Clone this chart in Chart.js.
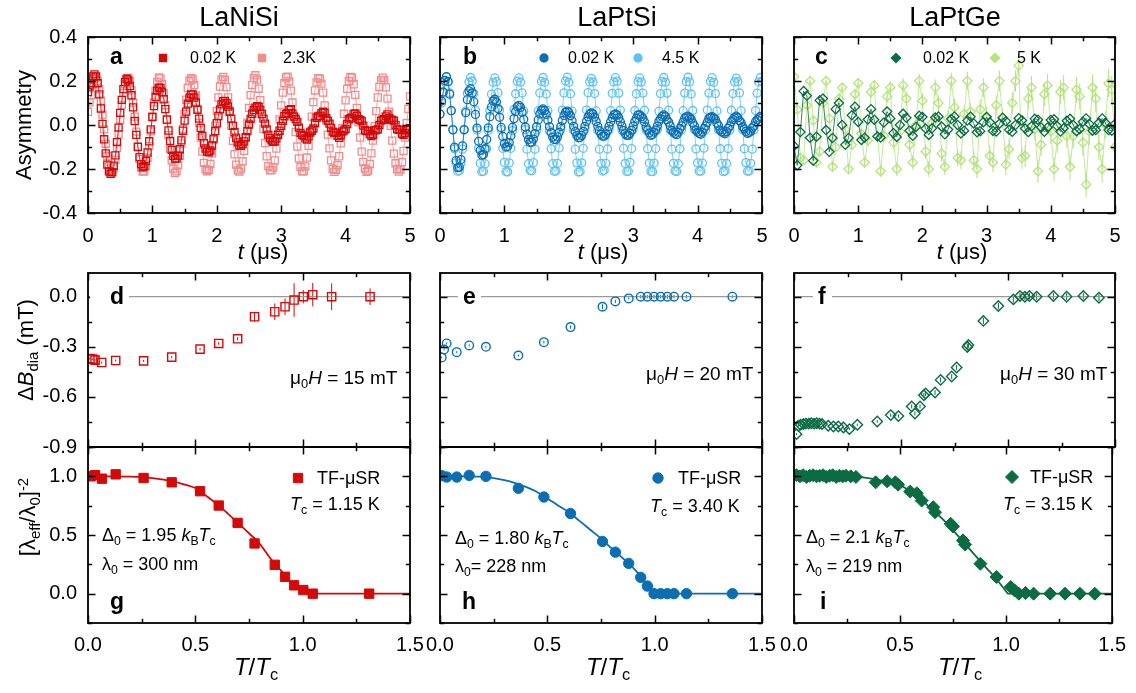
<!DOCTYPE html>
<html><head><meta charset="utf-8">
<script src="https://cdn.jsdelivr.net/npm/chart.js@4.4.1/dist/chart.umd.min.js"></script>
<style>
html,body{margin:0;padding:0;background:#fff;}
#wrap{position:relative;width:1136px;height:693px;overflow:hidden;font-family:"Liberation Sans",Arial,sans-serif;color:#000;background:#fff;}
canvas{position:absolute;left:0;top:0;}
.t{position:absolute;white-space:nowrap;line-height:1;z-index:5;}
.c{transform:translateX(-50%);}
.sub{font-size:0.68em;position:relative;top:0.32em;}
.sup{font-size:0.68em;position:relative;top:-0.5em;}
.lt{font-weight:bold;background:#fff;font-size:23px;}
.rot{transform:translate(-50%,-50%) rotate(-90deg);}
</style></head>
<body><div id="wrap">
<canvas id="ca" width="1136" height="693"></canvas>
<canvas id="cb" width="1136" height="693"></canvas>
<canvas id="cc" width="1136" height="693"></canvas>
<canvas id="cd" width="1136" height="693"></canvas>
<canvas id="ce" width="1136" height="693"></canvas>
<canvas id="cf" width="1136" height="693"></canvas>
<canvas id="cg" width="1136" height="693"></canvas>
<canvas id="ch" width="1136" height="693"></canvas>
<canvas id="ci" width="1136" height="693"></canvas>

<div class="t c" style="font-size:27px;left:239px;top:4px">LaNiSi</div>
<div class="t c" style="font-size:27px;left:617px;top:4px">LaPtSi</div>
<div class="t c" style="font-size:27px;left:955px;top:4px">LaPtGe</div>

<div class="t rot" style="font-size:22px;left:24px;top:125px">Asymmetry</div>
<div class="t rot" style="font-size:22px;left:26px;top:350px">Δ<i>B</i><span class="sub">dia</span> (mT)</div>
<div class="t rot" style="font-size:22px;left:28px;top:517px">[λ<span class="sub">eff</span>/λ<span class="sub">0</span>]<span class="sup">-2</span></div>

<div class="t c" style="font-size:22px;left:263px;top:241px"><i>t</i> (μs)</div>
<div class="t c" style="font-size:22px;left:603px;top:241px"><i>t</i> (μs)</div>
<div class="t c" style="font-size:22px;left:962px;top:241px"><i>t</i> (μs)</div>
<div class="t c" style="font-size:24px;left:256px;top:655px"><i>T</i>/<i>T</i><span class="sub">c</span></div>
<div class="t c" style="font-size:24px;left:608px;top:655px"><i>T</i>/<i>T</i><span class="sub">c</span></div>
<div class="t c" style="font-size:24px;left:960px;top:655px"><i>T</i>/<i>T</i><span class="sub">c</span></div>

<div class="t lt" style="left:110px;top:44.5px">a</div>
<div class="t lt" style="left:463px;top:44.5px">b</div>
<div class="t lt" style="left:815px;top:44.5px">c</div>
<div class="t lt" style="left:90px;top:284.5px;padding:0 5px 0 20px">d</div>
<div class="t lt" style="left:458px;top:284.5px;padding:0 5px">e</div>
<div class="t lt" style="left:813px;top:284.5px;padding:0 6px 0 5px">f</div>
<div class="t lt" style="left:110px;top:589.5px">g</div>
<div class="t lt" style="left:462px;top:589.5px">h</div>
<div class="t lt" style="left:820px;top:589.5px">i</div>

<div class="t" style="font-size:16px;left:190px;top:50px">0.02 K</div>
<div class="t" style="font-size:16px;left:283px;top:50px">2.3K</div>
<div class="t" style="font-size:16px;left:568px;top:50px">0.02 K</div>
<div class="t" style="font-size:16px;left:662px;top:50px">4.5 K</div>
<div class="t" style="font-size:16px;left:923px;top:50px">0.02 K</div>
<div class="t" style="font-size:16px;left:1017px;top:50px">5 K</div>

<div class="t" style="font-size:19px;left:290px;top:368px">μ<span class="sub">0</span><i>H</i> = 15 mT</div>
<div class="t" style="font-size:19px;left:646px;top:364px">μ<span class="sub">0</span><i>H</i> = 20 mT</div>
<div class="t" style="font-size:19px;left:1000px;top:364px">μ<span class="sub">0</span><i>H</i> = 30 mT</div>

<div class="t" style="font-size:18px;left:317px;top:469px">TF-μSR</div>
<div class="t" style="font-size:18px;left:290px;top:495px"><i>T</i><span class="sub">c</span> = 1.15 K</div>
<div class="t" style="font-size:18px;left:102px;top:526px">Δ<span class="sub">0</span> = 1.95 <i>k</i><span class="sub">B</span><i>T</i><span class="sub">c</span></div>
<div class="t" style="font-size:18px;left:102px;top:555px">λ<span class="sub">0</span> = 300 nm</div>

<div class="t" style="font-size:18px;left:678px;top:469px">TF-μSR</div>
<div class="t" style="font-size:18px;left:650px;top:497px"><i>T</i><span class="sub">c</span> = 3.40 K</div>
<div class="t" style="font-size:18px;left:455px;top:529px">Δ<span class="sub">0</span> = 1.80 <i>k</i><span class="sub">B</span><i>T</i><span class="sub">c</span></div>
<div class="t" style="font-size:18px;left:455px;top:557px">λ<span class="sub">0</span>= 228 nm</div>

<div class="t" style="font-size:18px;left:1030px;top:468px">TF-μSR</div>
<div class="t" style="font-size:18px;left:1003px;top:495px"><i>T</i><span class="sub">c</span> = 3.15 K</div>
<div class="t" style="font-size:18px;left:806px;top:528px">Δ<span class="sub">0</span> = 2.1 <i>k</i><span class="sub">B</span><i>T</i><span class="sub">c</span></div>
<div class="t" style="font-size:18px;left:806px;top:557px">λ<span class="sub">0</span> = 219 nm</div>
</div>

<script>
// ---------- data ----------
const timesFine = [
0,0.025,0.05,0.075,0.1,0.125,0.15,0.175,0.2,0.225,
0.25,0.275,0.3,0.325,0.35,0.375,0.4,0.425,0.45,0.475,
0.5,0.525,0.55,0.575,0.6,0.625,0.65,0.675,0.7,0.725,
0.75,0.775,0.8,0.825,0.85,0.875,0.9,0.925,0.95,0.975,
1.0,1.025,1.05,1.075,1.1,1.125,1.15,1.175,1.2,1.225,
1.25,1.275,1.3,1.325,1.35,1.375,1.4,1.425,1.45,1.475,
1.5,1.525,1.55,1.575,1.6,1.625,1.65,1.675,1.7,1.725,
1.75,1.775,1.8,1.825,1.85,1.875,1.9,1.925,1.95,1.975,
2.0,2.025,2.05,2.075,2.1,2.125,2.15,2.175,2.2,2.225,
2.25,2.275,2.3,2.325,2.35,2.375,2.4,2.425,2.45,2.475,
2.5,2.525,2.55,2.575,2.6,2.625,2.65,2.675,2.7,2.725,
2.75,2.775,2.8,2.825,2.85,2.875,2.9,2.925,2.95,2.975,
3.0,3.025,3.05,3.075,3.1,3.125,3.15,3.175,3.2,3.225,
3.25,3.275,3.3,3.325,3.35,3.375,3.4,3.425,3.45,3.475,
3.5,3.525,3.55,3.575,3.6,3.625,3.65,3.675,3.7,3.725,
3.75,3.775,3.8,3.825,3.85,3.875,3.9,3.925,3.95,3.975,
4.0,4.025,4.05,4.075,4.1,4.125,4.15,4.175,4.2,4.225,
4.25,4.275,4.3,4.325,4.35,4.375,4.4,4.425,4.45,4.475,
4.5,4.525,4.55,4.575,4.6,4.625,4.65,4.675,4.7,4.725,
4.75,4.775,4.8,4.825,4.85,4.875,4.9,4.925,4.95,4.975,
5.0];

const times = [
0,0.05,0.1,0.15,0.2,0.25,0.3,0.35,0.4,0.45,
0.5,0.55,0.6,0.65,0.7,0.75,0.8,0.85,0.9,0.95,
1.0,1.05,1.1,1.15,1.2,1.25,1.3,1.35,1.4,1.45,
1.5,1.55,1.6,1.65,1.7,1.75,1.8,1.85,1.9,1.95,
2.0,2.05,2.1,2.15,2.2,2.25,2.3,2.35,2.4,2.45,
2.5,2.55,2.6,2.65,2.7,2.75,2.8,2.85,2.9,2.95,
3.0,3.05,3.1,3.15,3.2,3.25,3.3,3.35,3.4,3.45,
3.5,3.55,3.6,3.65,3.7,3.75,3.8,3.85,3.9,3.95,
4.0,4.05,4.1,4.15,4.2,4.25,4.3,4.35,4.4,4.45,
4.5,4.55,4.6,4.65,4.7,4.75,4.8,4.85,4.9,4.95,
5.0];

const asymLaNiSiLow = [
0.15,0.175,0.19,0.221,0.23,0.221,0.19,0.139,0.075,0.005,
-0.065,-0.129,-0.18,-0.211,-0.222,-0.214,-0.185,-0.138,-0.078,-0.012,
0.055,0.114,0.163,0.196,0.21,0.203,0.177,0.135,0.08,0.018,
-0.045,-0.1,-0.146,-0.178,-0.192,-0.187,-0.164,-0.125,-0.074,-0.02,
0.036,0.086,0.127,0.156,0.17,0.168,0.15,0.117,0.072,0.025,
-0.025,-0.072,-0.113,-0.14,-0.153,-0.153,-0.139,-0.11,-0.07,-0.026,
0.02,0.061,0.097,0.124,0.139,0.139,0.125,0.102,0.069,0.029,
-0.013,-0.05,-0.083,-0.107,-0.121,-0.124,-0.116,-0.093,-0.062,-0.028,
0.008,0.041,0.071,0.094,0.108,0.109,0.099,0.084,0.06,0.029,
-0.004,-0.033,-0.058,-0.079,-0.093,-0.095,-0.087,-0.075,-0.055,-0.028,
0.002,0.028,0.051,0.068,0.079,0.085,0.083,0.07,0.05,0.029,
0.006,-0.02,-0.044,-0.06,-0.07,-0.076,-0.074,-0.062,-0.045,-0.026,
-0.004,0.019,0.04,0.05,0.055,0.067,0.072,0.052,0.038,0.027,
0.014,-0.012,-0.036,-0.045,-0.05,-0.061,-0.066,-0.053,-0.034,-0.026,
-0.016,0.009,0.033,0.039,0.042,0.054,0.06,0.055,0.031,0.019,
0.006,-0.013,-0.03,-0.035,-0.036,-0.049,-0.058,-0.046,-0.03,-0.025,
-0.018,0.004,0.026,0.031,0.033,0.05,0.052,0.041,0.026,0.023,
0.018,-0.003,-0.024,-0.027,-0.028,-0.041,-0.05,-0.045,-0.024,-0.023,
-0.02,0.0,0.02,0.024,0.026,0.039,0.048,0.032,0.024,0.023,
0.02,0.0,-0.02,-0.022,-0.022,-0.04,-0.045,-0.036,-0.023,-0.019,
-0.014];

const asymLaNiSiHigh = [
0.06,0.103,0.136,0.183,0.212,0.217,0.2,0.163,0.11,0.047,
-0.02,-0.085,-0.141,-0.186,-0.213,-0.216,-0.197,-0.158,-0.104,-0.042,
0.024,0.089,0.146,0.186,0.208,0.214,0.198,0.158,0.102,0.038,
-0.03,-0.097,-0.155,-0.193,-0.212,-0.211,-0.188,-0.149,-0.096,-0.029,
0.04,0.103,0.155,0.195,0.216,0.212,0.186,0.145,0.09,0.023,
-0.046,-0.108,-0.16,-0.199,-0.218,-0.211,-0.182,-0.14,-0.084,-0.018,
0.05,0.115,0.168,0.201,0.213,0.207,0.181,0.134,0.074,0.009,
-0.057,-0.121,-0.172,-0.201,-0.21,-0.204,-0.177,-0.129,-0.068,-0.003,
0.063,0.125,0.175,0.207,0.218,0.205,0.172,0.125,0.065,-0.004,
-0.072,-0.133,-0.18,-0.206,-0.212,-0.198,-0.165,-0.117,-0.058,0.011,
0.078,0.136,0.181,0.214,0.226,0.206,0.165,0.113,0.05,-0.017,
-0.082,-0.142,-0.187,-0.206,-0.205,-0.193,-0.161,-0.107,-0.042,0.025,
0.089,0.147,0.19,0.216,0.22,0.198,0.156,0.102,0.038,-0.032,
-0.098,-0.152,-0.191,-0.211,-0.21,-0.188,-0.148,-0.095,-0.032,0.038,
0.104,0.157,0.194,0.213,0.211,0.188,0.147,0.089,0.022,-0.044,
-0.106,-0.161,-0.2,-0.213,-0.205,-0.183,-0.142,-0.083,-0.015,0.051,
0.112,0.164,0.2,0.218,0.215,0.185,0.137,0.078,0.012,-0.057,
-0.121,-0.168,-0.198,-0.213,-0.207,-0.177,-0.129,-0.071,-0.005,0.063,
0.125,0.173,0.204,0.215,0.205,0.171,0.12,0.061,-0.004,-0.071,
-0.13,-0.174,-0.2,-0.212,-0.203,-0.169,-0.118,-0.057,0.009,0.073,
0.13];

const asymLaPtSiLow = [
0.05,0.109,0.15,0.203,0.22,0.197,0.14,0.065,-0.022,-0.101,
-0.162,-0.194,-0.192,-0.157,-0.095,-0.021,0.056,0.115,0.155,0.165,
0.146,0.106,0.048,-0.014,-0.074,-0.115,-0.137,-0.134,-0.108,-0.066,
-0.013,0.038,0.082,0.109,0.117,0.105,0.075,0.035,-0.011,-0.052,
-0.084,-0.1,-0.098,-0.08,-0.049,-0.011,0.029,0.061,0.083,0.089,
0.08,0.058,0.026,-0.009,-0.042,-0.066,-0.079,-0.078,-0.064,-0.039,
-0.008,0.023,0.05,0.067,0.073,0.066,0.048,0.022,-0.007,-0.034,
-0.055,-0.066,-0.066,-0.054,-0.033,-0.007,0.02,0.043,0.058,0.063,
0.057,0.042,0.019,-0.006,-0.03,-0.048,-0.058,-0.057,-0.047,-0.029,
-0.006,0.017,0.037,0.05,0.055,0.05,0.036,0.016,-0.006,-0.026,
-0.042,-0.051,-0.051,-0.042,-0.026,-0.006,0.015,0.033,0.046,0.05,
0.045,0.033,0.015,-0.005,-0.024,-0.039,-0.047,-0.047,-0.038,-0.024,
-0.005,0.016,0.031,0.046,0.046,0.038,0.03,0.014,-0.009,-0.022,
-0.036,-0.047,-0.043,-0.032,-0.022,-0.005,0.017,0.028,0.039,0.046,
0.038,0.024,0.013,-0.004,-0.025,-0.033,-0.04,-0.044,-0.033,-0.016,
-0.004,0.013,0.031,0.037,0.04,0.033,0.027,0.009,-0.004,-0.024,
-0.032,-0.038,-0.042,-0.032,-0.016,-0.004,0.012,0.03,0.035,0.038,
0.031,0.026,0.008,-0.004,-0.023,-0.03,-0.036,-0.04,-0.03,-0.015,
-0.004,0.015,0.025,0.033,0.04,0.033,0.02,0.011,-0.008,-0.018,
-0.029,-0.038,-0.034,-0.028,-0.014,-0.004,0.015,0.024,0.032,0.039,
0.032];

const asymLaPtSiHigh = [
0.05,0.1,0.144,0.196,0.218,0.198,0.146,0.066,-0.02,-0.108,
-0.172,-0.21,-0.208,-0.174,-0.11,-0.023,0.064,0.144,0.195,0.216,
0.2,0.144,0.068,-0.023,-0.105,-0.174,-0.212,-0.21,-0.176,-0.108,
-0.025,0.066,0.14,0.194,0.214,0.197,0.147,0.068,-0.021,-0.106,
-0.17,-0.212,-0.213,-0.172,-0.106,-0.025,0.07,0.142,0.199,0.214,
0.195,0.146,0.063,-0.021,-0.11,-0.176,-0.207,-0.208,-0.171,-0.11,
-0.023,0.064,0.146,0.198,0.216,0.194,0.141,0.066,-0.026,-0.108,
-0.176,-0.21,-0.209,-0.174,-0.104,-0.02,0.068,0.146,0.2,0.217,
0.194,0.142,0.064,-0.023,-0.11,-0.172,-0.214,-0.212,-0.172,-0.106,
-0.02,0.068,0.147,0.196,0.212,0.195,0.143,0.064,-0.025,-0.11,
-0.175,-0.209,-0.206,-0.174,-0.109,-0.021,0.065,0.144,0.196,0.215,
0.199,0.145,0.068,-0.024,-0.106,-0.175,-0.211,-0.21,-0.17,-0.107,
-0.021,0.066,0.142,0.197,0.214,0.195,0.145,0.067,-0.023,-0.108,
-0.173,-0.211,-0.212,-0.173,-0.107,-0.022,0.062,0.143,0.197,0.216,
0.195,0.145,0.067,-0.023,-0.11,-0.174,-0.209,-0.211,-0.176,-0.108,
-0.022,0.065,0.145,0.197,0.217,0.196,0.141,0.066,-0.02,-0.109,
-0.172,-0.21,-0.21,-0.173,-0.105,-0.023,0.068,0.145,0.198,0.215,
0.194,0.143,0.064,-0.022,-0.108,-0.174,-0.212,-0.209,-0.175,-0.107,
-0.024,0.067,0.143,0.196,0.213,0.197,0.146,0.065,-0.021,-0.108,
-0.171,-0.21,-0.209,-0.174,-0.11,-0.022,0.066,0.145,0.196,0.216,
0.199];

const asymLaPtGeLow = [
-0.095,-0.183,-0.032,0.154,0.133,-0.058,-0.162,-0.053,0.112,0.12,
-0.023,-0.122,-0.059,0.072,0.1,0.0,-0.09,-0.059,0.044,0.083,
0.014,-0.068,-0.058,0.025,0.072,0.024,-0.052,-0.057,0.011,0.061,
0.03,-0.037,-0.054,0.0,0.051,0.033,-0.026,-0.049,-0.009,0.042,
0.036,-0.016,-0.045,-0.015,0.034,0.038,-0.007,-0.042,-0.021,0.027,
0.039,0.0,-0.038,-0.026,0.02,0.038,0.007,-0.033,-0.028,0.013,
0.036,0.012,-0.027,-0.03,0.006,0.033,0.017,-0.022,-0.031,0.0,
0.031,0.021,-0.016,-0.032,-0.006,0.028,0.024,-0.011,-0.031,-0.011,
0.023,0.026,-0.005,-0.03,-0.015,0.019,0.028,0.0,-0.028,-0.019,
0.015,0.03,0.005,-0.026,-0.023,0.01,0.03,0.01,-0.023,-0.026,
0.005];

const asymLaPtGeHigh = [
0.22,0.07,-0.15,-0.16,0.09,0.2,0.02,-0.17,-0.12,0.1,
0.2,0.03,-0.19,-0.1,0.12,0.17,-0.02,-0.2,-0.09,0.14,
0.19,-0.04,-0.17,-0.07,0.15,0.18,-0.05,-0.21,-0.05,0.13,
0.17,-0.08,-0.2,-0.03,0.18,0.12,-0.09,-0.17,0.0,0.2,
0.11,-0.12,-0.2,0.01,0.17,0.1,-0.13,-0.19,0.03,0.2,
0.08,-0.15,-0.16,0.05,0.2,0.06,-0.16,-0.2,0.07,0.17,
0.04,-0.14,-0.17,0.09,0.2,0.03,-0.18,-0.11,0.1,0.2,
0.27,-0.15,-0.14,0.12,0.17,-0.02,-0.21,-0.09,0.14,0.18,
-0.03,-0.2,-0.07,0.15,0.17,-0.05,-0.19,-0.05,0.16,0.13,
-0.08,-0.27,-0.03,0.17,0.12,-0.1,-0.2,0.0,0.19,0.16,
-0.1];

const asymLaPtGeHighErr = [
0.015,0.016,0.015,0.017,0.016,0.018,0.017,0.018,0.019,0.018,
0.02,0.019,0.021,0.02,0.022,0.021,0.023,0.022,0.024,0.023,
0.025,0.024,0.026,0.025,0.027,0.026,0.028,0.027,0.029,0.028,
0.03,0.029,0.031,0.03,0.032,0.031,0.033,0.032,0.034,0.033,
0.035,0.034,0.036,0.035,0.037,0.036,0.038,0.037,0.039,0.038,
0.04,0.039,0.041,0.04,0.042,0.041,0.043,0.042,0.044,0.043,
0.045,0.044,0.046,0.045,0.047,0.046,0.048,0.047,0.049,0.048,
0.05,0.049,0.051,0.05,0.052,0.051,0.053,0.052,0.054,0.053,
0.055,0.054,0.056,0.055,0.057,0.056,0.058,0.057,0.059,0.058,
0.06,0.059,0.061,0.06,0.062,0.061,0.063,0.062,0.064,0.063,
0.065];

// diamagnetic shift
const dBLaNiSiT = [0.009,0.022,0.033,0.064,0.129,0.259,0.39,0.522,0.609,0.697,0.776,0.87,0.918,0.96,1.003,1.047,1.135,1.314];
const dBLaNiSi = [-0.37,-0.374,-0.38,-0.394,-0.382,-0.384,-0.362,-0.314,-0.28,-0.252,-0.12,-0.09,-0.06,-0.02,0.0,0.012,0.0,0.0];
const dBLaNiSiErr = [0.006,0.006,0.006,0.006,0.006,0.006,0.006,0.008,0.008,0.01,0.03,0.05,0.05,0.1,0.04,0.07,0.08,0.05];

const dBLaPtSiT = [0.008,0.019,0.031,0.078,0.136,0.214,0.365,0.484,0.608,0.757,0.817,0.879,0.935,0.966,0.997,1.028,1.059,1.09,1.148,1.362];
const dBLaPtSi = [-0.364,-0.316,-0.28,-0.332,-0.292,-0.3,-0.352,-0.272,-0.182,-0.06,-0.028,-0.01,0,0,0,0,0,0,0,0];
const dBLaPtSiErr = [0.006,0.006,0.006,0.006,0.006,0.006,0.006,0.008,0.01,0.015,0.01,0.006,0.01,0.01,0.012,0.01,0.012,0.01,0.01,0.008];

const dBLaPtGeT = [0.012,0.02,0.031,0.044,0.056,0.069,0.081,0.094,0.106,0.119,0.131,0.16,0.184,0.207,0.231,0.259,0.296,0.389,0.452,0.488,0.55,0.565,0.589,0.607,0.615,0.659,0.685,0.737,0.76,0.81,0.815,0.885,0.955,1.025,1.056,1.079,1.1,1.134,1.212,1.274,1.352,1.425];
const dBLaPtGe = [-0.823,-0.773,-0.767,-0.762,-0.76,-0.76,-0.758,-0.76,-0.758,-0.76,-0.762,-0.773,-0.777,-0.777,-0.783,-0.793,-0.767,-0.747,-0.709,-0.715,-0.657,-0.699,-0.657,-0.59,-0.58,-0.574,-0.498,-0.478,-0.424,-0.301,-0.289,-0.145,-0.056,-0.016,0.004,0,0.004,0,0.004,0,0.004,-0.006];
const dBLaPtGeErr = [0.006,0.006,0.006,0.006,0.006,0.006,0.006,0.006,0.006,0.006,0.006,0.006,0.006,0.006,0.006,0.006,0.006,0.008,0.01,0.01,0.012,0.012,0.012,0.015,0.015,0.015,0.015,0.015,0.015,0.02,0.02,0.02,0.02,0.02,0.02,0.02,0.02,0.02,0.02,0.02,0.02,0.02];

// superfluid density
const rhoLaNiSiT = [0.012,0.033,0.065,0.129,0.259,0.39,0.522,0.609,0.697,0.776,0.87,0.918,0.96,1.003,1.047,1.31];
const rhoLaNiSi = [1.0,1.01,0.98,1.017,0.986,0.949,0.873,0.751,0.603,0.428,0.246,0.144,0.071,0.031,0.0,0.0];
const fitLaNiSiT = [0,0.1,0.2,0.3,0.4,0.45,0.5,0.55,0.6,0.65,0.7,0.75,0.8,0.85,0.9,0.95,1.0,1.02,1.5];
const fitLaNiSi = [1,1,0.998,0.985,0.955,0.93,0.9,0.835,0.765,0.685,0.6,0.515,0.425,0.3,0.195,0.09,0.01,0,0];

const rhoLaPtSiT = [0.008,0.031,0.078,0.136,0.214,0.365,0.484,0.608,0.757,0.817,0.879,0.935,0.966,0.997,1.028,1.059,1.09,1.148,1.362];
const rhoLaPtSi = [1.006,0.994,0.994,1.008,1.0,0.898,0.824,0.683,0.445,0.354,0.258,0.139,0.065,0,0,0,0,0,0];
const fitLaPtSiT = [0,0.1,0.2,0.25,0.3,0.35,0.4,0.45,0.5,0.55,0.6,0.65,0.7,0.75,0.8,0.85,0.9,0.95,1.0,1.5];
const fitLaPtSi = [1,1,0.996,0.985,0.967,0.942,0.91,0.868,0.812,0.752,0.693,0.62,0.545,0.47,0.385,0.305,0.22,0.115,0,0];

const rhoLaPtGeT = [0.012,0.028,0.043,0.059,0.074,0.09,0.106,0.121,0.137,0.152,0.168,0.183,0.199,0.214,0.23,0.245,0.268,0.292,0.385,0.439,0.478,0.491,0.548,0.579,0.602,0.657,0.665,0.739,0.75,0.797,0.807,0.879,0.955,1.022,1.04,1.06,1.092,1.13,1.208,1.278,1.348,1.418];
const rhoLaPtGe = [1.01,1.0,1.01,0.995,1.005,1.01,1.0,1.005,1.01,0.995,1.005,1.01,0.995,1.005,1.0,1.005,1.0,0.995,0.949,0.958,0.949,0.929,0.87,0.856,0.793,0.737,0.694,0.595,0.572,0.453,0.419,0.255,0.142,0.057,0.028,0,0.006,0,0,0,0,0];
const fitLaPtGeT = [0,0.2,0.3,0.35,0.4,0.45,0.5,0.55,0.6,0.65,0.7,0.75,0.8,0.85,0.9,0.95,1.0,1.01,1.5];
const fitLaPtGe = [1,1,0.995,0.985,0.968,0.95,0.925,0.87,0.8,0.72,0.637,0.54,0.44,0.335,0.232,0.135,0.02,0,0];

const zeroLineT = [0,1.5];
const zeroLine = [0,0];

// tick values
const tTicks = [0,1,2,3,4,5], tMinor = [0.5,1.5,2.5,3.5,4.5];
const asymTicks = [-0.4,-0.2,0,0.2,0.4], asymMinor = [-0.3,-0.1,0.1,0.3];
const TTicks = [0,0.5,1,1.5], TMinor = [0.25,0.75,1.25];
const dBTicks = [-0.9,-0.6,-0.3,0], dBMinor = [-0.75,-0.45,-0.15];
const rhoTicks = [0,0.5,1], rhoMinor = [-0.25,0.25,0.75,1.25];

// colours
const RED='#D20A0A', RED_L='#F28C8C', BLUE='#0B6EB2', BLUE_L='#5EC2F6', GRN='#0B6B43', GRN_L='#B3E47C';

// ---------- helpers ----------
Chart.defaults.font.family = '"Liberation Sans", Arial, sans-serif';
Chart.defaults.color = '#000';

function zip(xs, ys){ return xs.map((x,i)=>({x:x, y:ys[i]})); }

function drawMarker(ctx, m){
  ctx.save();
  ctx.lineWidth = m.lw || 1.3;
  ctx.strokeStyle = m.color; ctx.fillStyle = m.fill ? m.color : 'rgba(0,0,0,0)';
  ctx.beginPath();
  if (m.style==='rect'){ const s=m.r*Math.SQRT1_2; ctx.rect(m.x-s,m.y-s,2*s,2*s); }
  else if (m.style==='circle'){ ctx.arc(m.x,m.y,m.r,0,Math.PI*2); }
  else { ctx.moveTo(m.x,m.y-m.r); ctx.lineTo(m.x+m.r,m.y); ctx.lineTo(m.x,m.y+m.r); ctx.lineTo(m.x-m.r,m.y); ctx.closePath(); }
  if (m.fill) ctx.fill();
  ctx.stroke();
  ctx.restore();
}

const framePlugin = {
  id: 'frame',
  beforeDatasetsDraw(chart){
    const ctx = chart.ctx, xs = chart.scales.x, ys = chart.scales.y;
    chart.data.datasets.forEach(ds=>{
      if (!ds.errors) return;
      ctx.save();
      ctx.strokeStyle = ds.errColor || ds.borderColor; ctx.lineWidth = 1;
      ds.data.forEach((p,j)=>{
        const x = xs.getPixelForValue(p.x);
        ctx.beginPath();
        ctx.moveTo(x, ys.getPixelForValue(p.y - ds.errors[j]));
        ctx.lineTo(x, ys.getPixelForValue(p.y + ds.errors[j]));
        ctx.stroke();
      });
      ctx.restore();
    });
  },
  afterDraw(chart, args, o){
    const ctx = chart.ctx, a = chart.chartArea, xs = chart.scales.x, ys = chart.scales.y;
    ctx.save();
    ctx.strokeStyle = '#000'; ctx.lineWidth = 1.5;
    const MAJ = 7.5, MIN = 4.2;
    function xt(vals, len){ vals.forEach(v=>{ const x = Math.round(xs.getPixelForValue(v))+0.5; if (x<a.left-1||x>a.right+1) return;
      ctx.beginPath(); ctx.moveTo(x,a.bottom); ctx.lineTo(x,a.bottom-len); ctx.moveTo(x,a.top); ctx.lineTo(x,a.top+len); ctx.stroke(); }); }
    function yt(vals, len){ vals.forEach(v=>{ const y = Math.round(ys.getPixelForValue(v))+0.5; if (y<a.top-1||y>a.bottom+1) return;
      ctx.beginPath(); ctx.moveTo(a.left,y); ctx.lineTo(a.left+len,y); ctx.moveTo(a.right,y); ctx.lineTo(a.right-len,y); ctx.stroke(); }); }
    xt(o.xMajor, MAJ); xt(o.xMinor, MIN); yt(o.yMajor, MAJ); yt(o.yMinor, MIN);
    ctx.lineWidth = 1.8;
    ctx.strokeRect(a.left, a.top, a.right-a.left, a.bottom-a.top);
    (o.markers||[]).forEach(m=>drawMarker(ctx,m));
    ctx.restore();
  }
};

const Y_BOX = 84, X_BOX = 40;
function axis(min, max, ticks, showLabels, dec, pad){
  return {
    type:'linear', min:min, max:max,
    grid:{display:false, drawTicks:false}, border:{display:false},
    ticks:{display:showLabels, padding:pad, autoSkip:false, maxRotation:0, font:{size:20}, color:'#000',
      callback:(v)=>Number(v).toFixed(dec)},
    afterBuildTicks:(s)=>{ s.ticks = ticks.map(v=>({value:v})); },
    afterFit:(s)=>{ if (s.isHorizontal()) s.height = X_BOX; else s.width = Y_BOX; }
  };
}

function make(id, rect, xAx, yAx, datasets, frameOpts){
  new Chart(document.getElementById(id), {
    type:'scatter',
    data:{datasets:datasets},
    options:{
      responsive:false, animation:false, devicePixelRatio:1, events:[],
      layout:{padding:{left:rect[0]-Y_BOX, top:rect[1], right:1136-rect[2], bottom:693-rect[3]-X_BOX}},
      plugins:{legend:{display:false}, tooltip:{enabled:false}, frame:frameOpts},
      scales:{x:xAx, y:yAx}
    },
    plugins:[framePlugin]
  });
}

function topSet(ts, ys, color, style, r){
  return {data:zip(ts, ys), showLine:true, borderColor:color, borderWidth:0.8,
    pointStyle:style, pointRadius:r, pointBorderWidth:1.3, pointBorderColor:color,
    pointBackgroundColor:'rgba(0,0,0,0)', tension:0};
}
function midSet(xs, ys, errs, color, style, r){
  return {data:zip(xs, ys), showLine:false, borderColor:color, errors:errs,
    pointStyle:style, pointRadius:r, pointBorderWidth:1.4, pointBorderColor:color, pointBackgroundColor:'rgba(0,0,0,0)'};
}
function zeroSet(){
  return {data:zip(zeroLineT, zeroLine), showLine:true, borderColor:'#9a9a9a', borderWidth:1.3, pointRadius:0};
}
function botSet(xs, ys, color, style, r){
  return {data:zip(xs, ys), showLine:false, borderColor:color, pointStyle:style, pointRadius:r,
    pointBorderWidth:1, pointBorderColor:color, pointBackgroundColor:color};
}
function fitSet(xs, ys, color){
  return {data:zip(xs, ys), showLine:true, borderColor:color, borderWidth:1.8, pointRadius:0, cubicInterpolationMode:'monotone'};
}

const cols = [[88,410],[440,762],[794,1115]];
const rowTop = [37,213], rowMid = [273,447], rowBot = [447,623];
const topFrame = {xMajor:tTicks, xMinor:tMinor, yMajor:asymTicks, yMinor:asymMinor};
const midFrame = {xMajor:TTicks, xMinor:TMinor, yMajor:dBTicks, yMinor:dBMinor};
const botFrame = {xMajor:TTicks, xMinor:TMinor, yMajor:rhoTicks, yMinor:rhoMinor};

// ---------- top row ----------
make('ca', [cols[0][0],rowTop[0],cols[0][1],rowTop[1]],
  axis(0,5,tTicks,true,0,11), axis(-0.4,0.4,asymTicks,true,1,11),
  [topSet(timesFine, asymLaNiSiLow, RED, 'rect', 5), topSet(timesFine, asymLaNiSiHigh, RED_L, 'rect', 5)],
  Object.assign({markers:[{x:163,y:58,style:'rect',r:5,color:RED},{x:262,y:58,style:'rect',r:5,color:RED_L}]}, topFrame));

make('cb', [cols[1][0],rowTop[0],cols[1][1],rowTop[1]],
  axis(0,5,tTicks,true,0,11), axis(-0.4,0.4,asymTicks,false,1,11),
  [topSet(timesFine, asymLaPtSiLow, BLUE, 'circle', 4), topSet(timesFine, asymLaPtSiHigh, BLUE_L, 'circle', 4)],
  Object.assign({markers:[{x:544,y:58,style:'circle',r:4,color:BLUE},{x:638,y:58,style:'circle',r:4,color:BLUE_L}]}, topFrame));

const geHigh = topSet(times, asymLaPtGeHigh, GRN_L, 'rectRot', 4.6);
geHigh.errors = asymLaPtGeHighErr;
make('cc', [cols[2][0],rowTop[0],cols[2][1],rowTop[1]],
  axis(0,5,tTicks,true,0,11), axis(-0.4,0.4,asymTicks,false,1,11),
  [topSet(times, asymLaPtGeLow, GRN, 'rectRot', 4.6), geHigh],
  Object.assign({markers:[{x:896,y:58,style:'diamond',r:4.6,color:GRN},{x:995,y:58,style:'diamond',r:4.6,color:GRN_L}]}, topFrame));

// ---------- middle row ----------
make('cd', [cols[0][0],rowMid[0],cols[0][1],rowMid[1]],
  axis(0,1.5,TTicks,false,1,10), axis(-0.9,0.142,dBTicks,true,1,11),
  [midSet(dBLaNiSiT, dBLaNiSi, dBLaNiSiErr, RED, 'rect', 5.8), zeroSet()], midFrame);
make('ce', [cols[1][0],rowMid[0],cols[1][1],rowMid[1]],
  axis(0,1.5,TTicks,false,1,10), axis(-0.9,0.142,dBTicks,false,1,11),
  [midSet(dBLaPtSiT, dBLaPtSi, dBLaPtSiErr, BLUE, 'circle', 4.3), zeroSet()], midFrame);
make('cf', [cols[2][0],rowMid[0],cols[2][1],rowMid[1]],
  axis(0,1.5,TTicks,false,1,10), axis(-0.9,0.142,dBTicks,false,1,11),
  [midSet(dBLaPtGeT, dBLaPtGe, dBLaPtGeErr, GRN, 'rectRot', 5.2), zeroSet()], midFrame);

// ---------- bottom row ----------
make('cg', [cols[0][0],rowBot[0],cols[0][1],rowBot[1]],
  axis(0,1.5,TTicks,true,1,10), axis(-0.25,1.25,rhoTicks,true,1,11),
  [botSet(rhoLaNiSiT, rhoLaNiSi, RED, 'rect', 6.6), fitSet(fitLaNiSiT, fitLaNiSi, RED)],
  Object.assign({markers:[{x:298,y:478,style:'rect',r:6.6,color:RED,fill:true,lw:1}]}, botFrame));
make('ch', [cols[1][0],rowBot[0],cols[1][1],rowBot[1]],
  axis(0,1.5,TTicks,true,1,10), axis(-0.25,1.25,rhoTicks,false,1,11),
  [botSet(rhoLaPtSiT, rhoLaPtSi, BLUE, 'circle', 5.2), fitSet(fitLaPtSiT, fitLaPtSi, BLUE)],
  Object.assign({markers:[{x:658,y:478,style:'circle',r:5.2,color:BLUE,fill:true,lw:1}]}, botFrame));
make('ci', [cols[2][0],rowBot[0],cols[2][1],rowBot[1]],
  axis(0,1.5,TTicks,true,1,10), axis(-0.25,1.25,rhoTicks,false,1,11),
  [botSet(rhoLaPtGeT, rhoLaPtGe, GRN, 'rectRot', 6.5), fitSet(fitLaPtGeT, fitLaPtGe, GRN)],
  Object.assign({markers:[{x:1012,y:477,style:'diamond',r:6.5,color:GRN,fill:true,lw:1}]}, botFrame));
</script>
</body></html>
